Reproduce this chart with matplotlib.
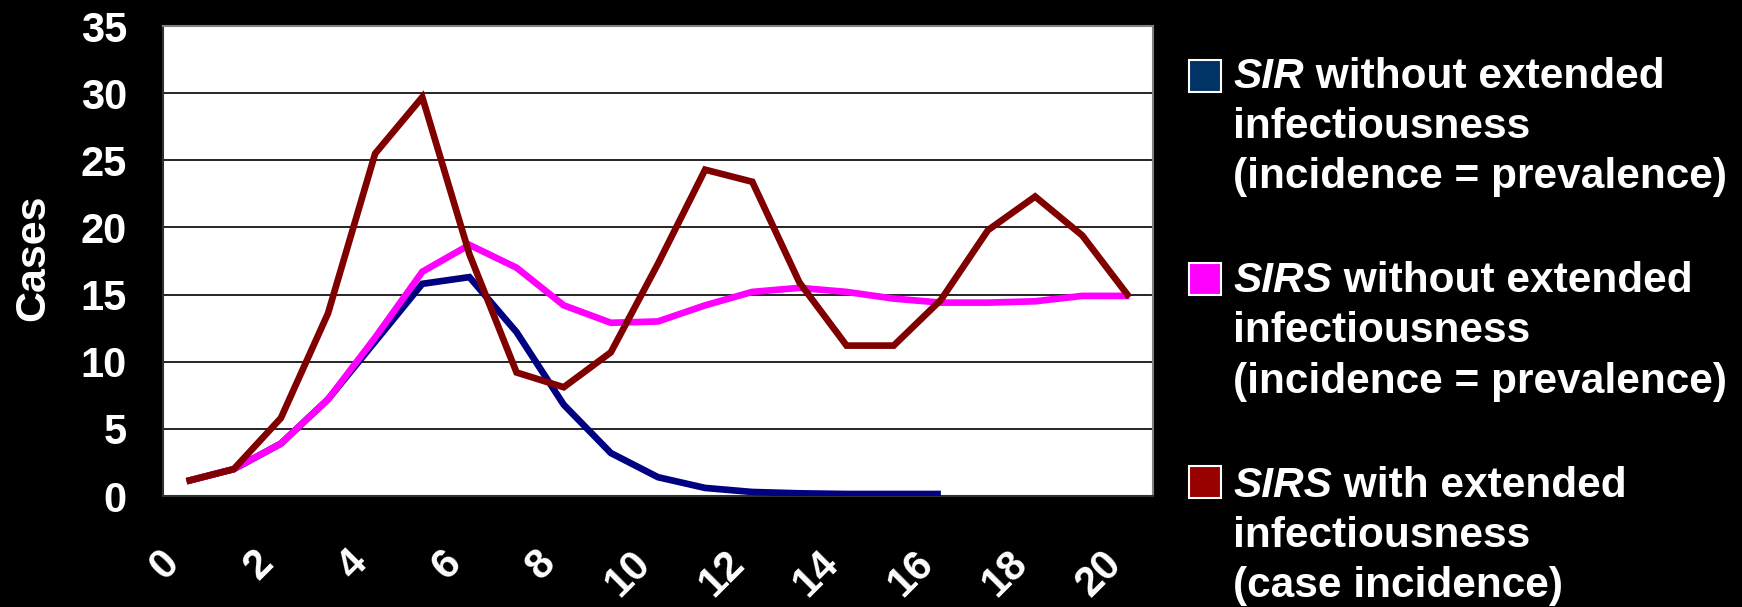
import matplotlib
matplotlib.use("Agg")
import matplotlib.pyplot as plt
from matplotlib.patches import Rectangle
from matplotlib.transforms import ScaledTranslation

# weekly case counts for the three model runs
weeks = list(range(21))
sir_cases = [1.1, 2.0, 3.9, 7.2, 11.5, 15.8, 16.3, 12.2, 6.8, 3.2, 1.4,
             0.6, 0.3, 0.2, 0.15, 0.15, 0.15]
sirs_cases = [1.1, 2.0, 3.9, 7.2, 11.8, 16.7, 18.7, 17.0, 14.2, 12.9, 13.0,
              14.2, 15.2, 15.5, 15.2, 14.7, 14.4, 14.4, 14.5, 14.9, 14.9]
sirs_ext_cases = [1.1, 2.0, 5.8, 13.6, 25.5, 29.7, 18.0, 9.2, 8.1, 10.7, 17.3,
                  24.3, 23.4, 15.9, 11.2, 11.2, 14.6, 19.8, 22.3, 19.4, 14.8]

x_ticks = list(range(0, 21, 2))
y_ticks = list(range(0, 36, 5))

line_colors = ["#000080", "#FF00FF", "#800000"]
swatch_colors = ["#003366", "#FF00FF", "#990000"]
legend_heads = ["SIR", "SIRS", "SIRS"]
legend_rest = [" without extended", " without extended", " with extended"]
legend_lines = [["infectiousness", "(incidence = prevalence)"],
                ["infectiousness", "(incidence = prevalence)"],
                ["infectiousness", "(case incidence)"]]

W, H = 1742, 607
plt.rcParams["font.family"] = ["Liberation Sans", "DejaVu Sans"]
plt.rcParams["font.weight"] = "bold"

fig = plt.figure(figsize=(W / 100, H / 100), dpi=100, facecolor="black")
ax = fig.add_axes([163 / W, 1 - 496 / H, (1153 - 163) / W, (496 - 26) / H])
ax.set_facecolor("white")

lw = 4.8
ax.plot(weeks[:len(sir_cases)], sir_cases, color=line_colors[0], lw=lw,
        solid_joinstyle="miter", solid_capstyle="butt", zorder=3)
ax.plot(weeks, sirs_cases, color=line_colors[1], lw=lw,
        solid_joinstyle="miter", solid_capstyle="butt", zorder=4)
ax.plot(weeks, sirs_ext_cases, color=line_colors[2], lw=lw,
        solid_joinstyle="miter", solid_capstyle="butt", zorder=5)

ax.set_xlim(-0.5, 20.5)
ax.set_ylim(0, 35)
ax.set_yticks(y_ticks)
ax.set_yticklabels([str(v) for v in y_ticks])
ax.set_xticks(x_ticks)
ax.set_xticklabels([str(v) for v in x_ticks], rotation=45,
                   rotation_mode="anchor", ha="right", va="center")
ax.tick_params(axis="both", length=0, colors="white", labelsize=30)
ax.tick_params(axis="y", pad=26)
ax.tick_params(axis="x", pad=44)
shift = ScaledTranslation(-14 / 100, 0, fig.dpi_scale_trans)
for lab in ax.get_xticklabels():
    lab.set_transform(lab.get_transform() + shift)

ax.yaxis.grid(True, color="black", lw=1.2)
ax.set_axisbelow(True)
for side in ["top", "right"]:
    ax.spines[side].set_color("#808080")
    ax.spines[side].set_linewidth(1.5)
for side in ["left", "bottom"]:
    ax.spines[side].set_color("#303030")
    ax.spines[side].set_linewidth(1.5)

fig.text(33 / W, 1 - 258 / H, "Cases", rotation=90, ha="center", va="center",
         color="white", fontsize=31, fontweight="bold")

# legend drawn by hand: italic model name followed by plain bold text
renderer = fig.canvas.get_renderer()
text_x = 1233
for i in range(3):
    base = 88 + 204.5 * i
    sw_top = 60 + 203 * i
    fig.patches.append(Rectangle((1189 / W, 1 - (sw_top + 32) / H), 32 / W, 32 / H,
                                 transform=fig.transFigure, facecolor=swatch_colors[i],
                                 edgecolor="white", lw=1.5))
    head = fig.text(text_x / W, 1 - base / H, legend_heads[i], color="white",
                    fontsize=30.5, fontweight="bold", fontstyle="italic", va="baseline")
    bb = head.get_window_extent(renderer)
    fig.text(bb.x1 / W, 1 - base / H, legend_rest[i], color="white",
             fontsize=30.5, fontweight="bold", va="baseline")
    for k, line in enumerate(legend_lines[i]):
        fig.text(text_x / W, 1 - (base + 50 * (k + 1)) / H, line, color="white",
                 fontsize=30.5, fontweight="bold", va="baseline")

fig.savefig("out.png", dpi=100, facecolor="black")
